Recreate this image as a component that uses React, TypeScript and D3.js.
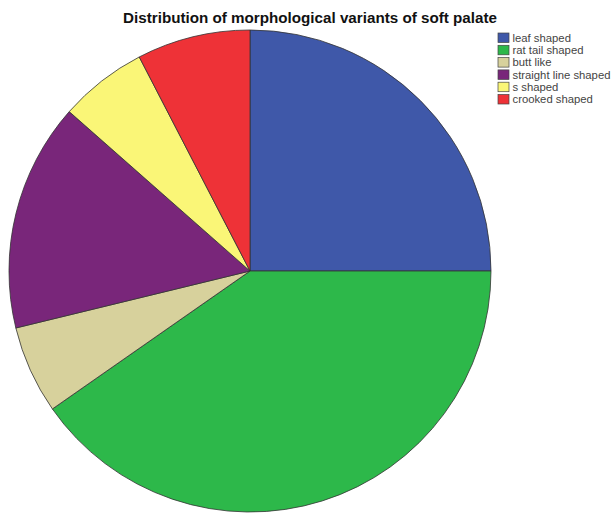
import React from "react";
import * as d3 from "d3";

const categories = [
  "leaf shaped",
  "rat tail shaped",
  "butt like",
  "straight line shaped",
  "s shaped",
  "crooked shaped",
];
const percents = [25, 40.3, 5.9, 15.3, 5.9, 7.6];
const colors = ["#3f58a9", "#2db84a", "#d7d19c", "#79267a", "#faf677", "#ee3237"];

const W = 614;
const H = 515;
const cx = 250;
const cy = 271;
const R = 241;

export default function App() {
  const pie = d3.pie<number>().sort(null).value((d) => d);
  const arcs = pie(percents);
  const arcGen = d3.arc<d3.PieArcDatum<number>>().innerRadius(0).outerRadius(R);

  return (
    <svg
      width={W}
      height={H}
      style={{ position: "absolute", left: 0, top: 0, background: "#fff" }}
      fontFamily="Liberation Sans, Arial, sans-serif"
    >
      <text x={310} y={23} textAnchor="middle" fontSize={15.2} fontWeight="bold" fill="#111">
        Distribution of morphological variants of soft palate
      </text>
      <g transform={`translate(${cx},${cy})`}>
        {arcs.map((a, i) => (
          <path key={i} d={arcGen(a) || ""} fill={colors[i]} stroke="#333" strokeWidth={0.8} />
        ))}
      </g>
      <g transform="translate(498,33)">
        {categories.map((c, i) => (
          <g key={c} transform={`translate(0,${i * 12.3})`}>
            <rect x={0} y={0} width={11} height={9.5} fill={colors[i]} stroke="#444" strokeWidth={0.7} />
            <text x={14.5} y={8.8} fontSize={11.3} fill="#444">
              {c}
            </text>
          </g>
        ))}
      </g>
    </svg>
  );
}
